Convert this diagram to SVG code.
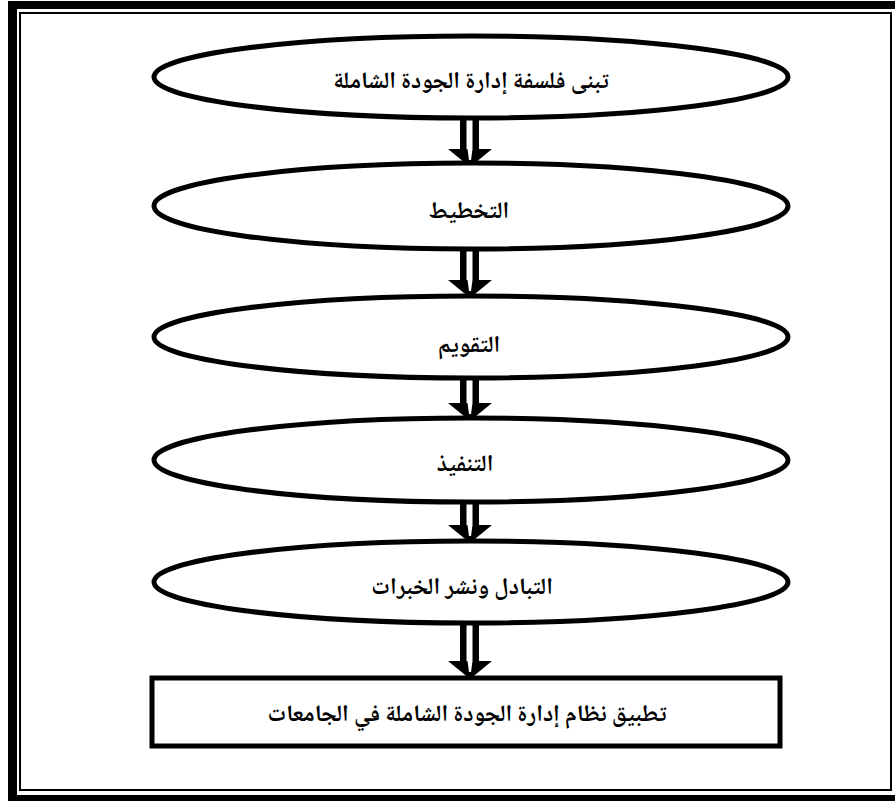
<svg xmlns="http://www.w3.org/2000/svg" width="895" height="801" viewBox="0 0 895 801">
<style>
.node{fill:#fff;stroke:#000;stroke-width:5}
.lbl{font-family:"Noto Naskh Arabic","Noto Sans Arabic","DejaVu Sans",sans-serif;font-weight:bold;font-size:23.5px;fill:#000;text-anchor:middle;direction:rtl}
.sh{fill:#000}
.notch{fill:#fff}
</style>
<defs>
<g id="arrowHead">
<path class="sh" d="M448,0 H492 L470,18 Z"/>
<path class="notch" d="M467.5,0 H472.5 L471,11 H469 Z"/>
</g>
</defs>
<g id="frame">
<rect x="8" y="1" width="9" height="800" fill="#000"/>
<rect x="8" y="1" width="887" height="8" fill="#000"/>
<rect x="8" y="795" width="887" height="6" fill="#000"/>
<rect x="20" y="13" width="871" height="777" fill="none" stroke="#000" stroke-width="2"/>
</g>
<g id="connectors">
<g id="a1"><rect class="sh" x="460" y="118" width="19" height="31"/><rect class="notch" x="466.5" y="118" width="6" height="31"/><use href="#arrowHead" y="149"/></g>
<g id="a2"><rect class="sh" x="460" y="249" width="19" height="31"/><rect class="notch" x="466.5" y="249" width="6" height="31"/><use href="#arrowHead" y="280"/></g>
<g id="a3"><rect class="sh" x="460" y="378" width="19" height="25"/><rect class="notch" x="466.5" y="378" width="6" height="25"/><use href="#arrowHead" y="403"/></g>
<g id="a4"><rect class="sh" x="460" y="502" width="19" height="23"/><rect class="notch" x="466.5" y="502" width="6" height="23"/><use href="#arrowHead" y="525"/></g>
<g id="a5"><rect class="sh" x="460" y="624" width="19" height="37"/><rect class="notch" x="466.5" y="624" width="6" height="37"/><use href="#arrowHead" y="661"/></g>
</g>
<g id="n1"><ellipse class="node" cx="471" cy="77" rx="317" ry="41"/><text class="lbl" x="471" y="88">تبنى فلسفة إدارة الجودة الشاملة</text></g>
<g id="n2"><ellipse class="node" cx="471" cy="206" rx="317" ry="43"/><text class="lbl" x="469" y="218">التخطيط</text></g>
<g id="n3"><ellipse class="node" cx="471" cy="337" rx="317" ry="41"/><text class="lbl" x="469" y="352">التقويم</text></g>
<g id="n4"><ellipse class="node" cx="471" cy="460" rx="317" ry="42"/><text class="lbl" x="465" y="471">التنفيذ</text></g>
<g id="n5"><ellipse class="node" cx="471" cy="582" rx="317" ry="41"/><text class="lbl" x="462" y="594">التبادل ونشر الخبرات</text></g>
<g id="n6"><rect class="node" x="152" y="678" width="628" height="68"/><text class="lbl" x="467" y="721">تطبيق نظام إدارة الجودة الشاملة في الجامعات</text></g>
</svg>
